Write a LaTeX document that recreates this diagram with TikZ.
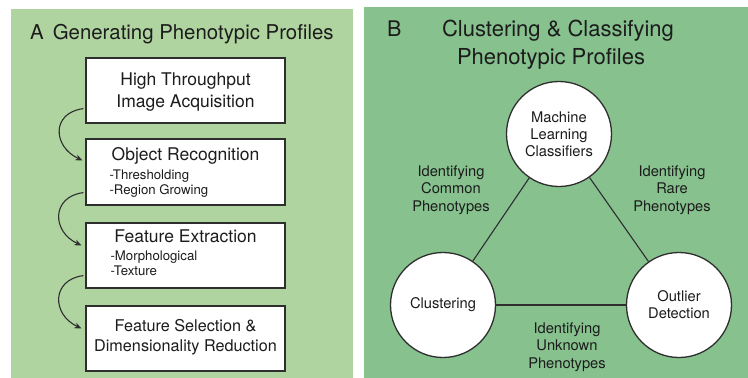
\documentclass[tikz,border=0pt]{standalone}
\usepackage{fontspec}
\setmainfont{TeX Gyre Heros}
\usetikzlibrary{calc,arrows.meta}
\definecolor{panelA}{HTML}{B0D4A0}
\definecolor{panelB}{HTML}{86C18E}
\definecolor{ink}{HTML}{1C1C1C}
\definecolor{edge}{HTML}{2E2E2E}
\tikzset{
  stepbox/.style={draw=edge, line width=1.2pt, fill=white, minimum width=199pt, minimum height=65pt, inner sep=0pt},
  bigtxt/.style={text=ink, inner sep=0pt, font=\fontsize{17.5}{21}\selectfont},
  subtxt/.style={text=ink, inner sep=0pt, font=\fontsize{13.2}{15.5}\selectfont, anchor=base west},
  ball/.style={circle, draw=edge, line width=1.3pt, fill=white, minimum size=105pt, inner sep=0pt, align=center, text=ink, font=\fontsize{14.7}{17.2}\selectfont},
  lbl/.style={align=center, text=ink, inner sep=0pt, font=\fontsize{14.7}{17.5}\selectfont},
  link/.style={draw=edge, line width=1.1pt},
  flow/.style={draw=edge, line width=1.1pt, -{Stealth[length=7pt,width=6pt]}},
  ttl/.style={text=ink, inner sep=0pt, anchor=base}
}
\begin{document}
\begin{tikzpicture}[x=1pt,y=-1pt]
\useasboundingbox (0,0) rectangle (748,378);
% panels
\fill[panelA] (11,9) rectangle (353,378);
\fill[panelB] (364,7) rectangle (748,378);
% panel A title
\node[ttl, anchor=base west, font=\fontsize{20.4}{24}\selectfont] (ta) at (30,39) {A\hspace{9pt}Generating Phenotypic Profiles};
% boxes
\node[stepbox] (b1) at (185.5,90.5) {};
\node[stepbox, minimum height=66pt] (b2) at (185.5,172) {};
\node[stepbox] (b3) at (185.5,255.5) {};
\node[stepbox] (b4) at (185.5,338.5) {};
% box texts
\node[bigtxt, anchor=base] (b1a) at ($(b1.north)+(0,28)$) {High Throughput};
\node[bigtxt, anchor=base] (b1b) at ($(b1.north)+(0,50)$) {Image Acquisition};
\node[bigtxt, anchor=base] (b2a) at ($(b2.north)+(0,22)$) {Object Recognition};
\node[subtxt] (b2b) at ($(b2.north west)+(24,41)$) {-Thresholding};
\node[subtxt] (b2c) at ($(b2.north west)+(24,56)$) {-Region Growing};
\node[bigtxt, anchor=base] (b3a) at ($(b3.north)+(0,20)$) {Feature Extraction};
\node[subtxt] (b3b) at ($(b3.north west)+(25,38)$) {-Morphological};
\node[subtxt] (b3c) at ($(b3.north west)+(25,53)$) {-Texture};
\node[bigtxt, anchor=base, font=\fontsize{16.2}{20}\selectfont] (b4a) at ($(b4.north)+(0,26)$) {Feature Selection \&};
\node[bigtxt, anchor=base, font=\fontsize{16.2}{20}\selectfont] (b4b) at ($(b4.north)+(0,46)$) {Dimensionality Reduction};
% flow arrows
\coordinate (s1) at ($(b1.south west)+(-2,-15)$);
\coordinate (e1) at ($(b2.north west)+(-3,22)$);
\coordinate (s2) at ($(b2.south west)+(-2,-13)$);
\coordinate (e2) at ($(b3.north west)+(-4,23)$);
\coordinate (s3) at ($(b3.south west)+(-2,-13)$);
\coordinate (e3) at ($(b4.north west)+(-4,23)$);
\draw[flow] (s1) .. controls ($(s1)+(-32,4)$) and ($(e1)+(-30,-14)$) .. (e1);
\draw[flow] (s2) .. controls ($(s2)+(-32,4)$) and ($(e2)+(-30,-14)$) .. (e2);
\draw[flow] (s3) .. controls ($(s3)+(-32,4)$) and ($(e3)+(-30,-14)$) .. (e3);
% panel B title
\node[ttl, anchor=base west, font=\fontsize{21.5}{25}\selectfont] (tb) at (387,36.5) {B};
\node[ttl, font=\fontsize{22}{26}\selectfont] (tb1) at (558,36.5) {Clustering \& Classifying};
\node[ttl, font=\fontsize{22}{26}\selectfont] (tb2) at (551,64) {Phenotypic Profiles};
% circles
\node[ball] (ml) at (559,134) {Machine\\Learning\\Classifiers};
\node[ball] (cl) at (443,305) {Clustering};
\node[ball] (od) at (679,305) {Outlier\\Detection};
\draw[link] (ml) -- (cl);
\draw[link] (ml) -- (od);
\draw[link] (cl) -- (od);
% edge labels
\node[lbl] (lc) at (451,190) {Identifying\\Common\\Phenotypes};
\node[lbl] (lr) at (672,190) {Identifying\\Rare\\Phenotypes};
\node[lbl] (lu) at (567,347) {Identifying\\Unknown\\Phenotypes};
\end{tikzpicture}
\end{document}
